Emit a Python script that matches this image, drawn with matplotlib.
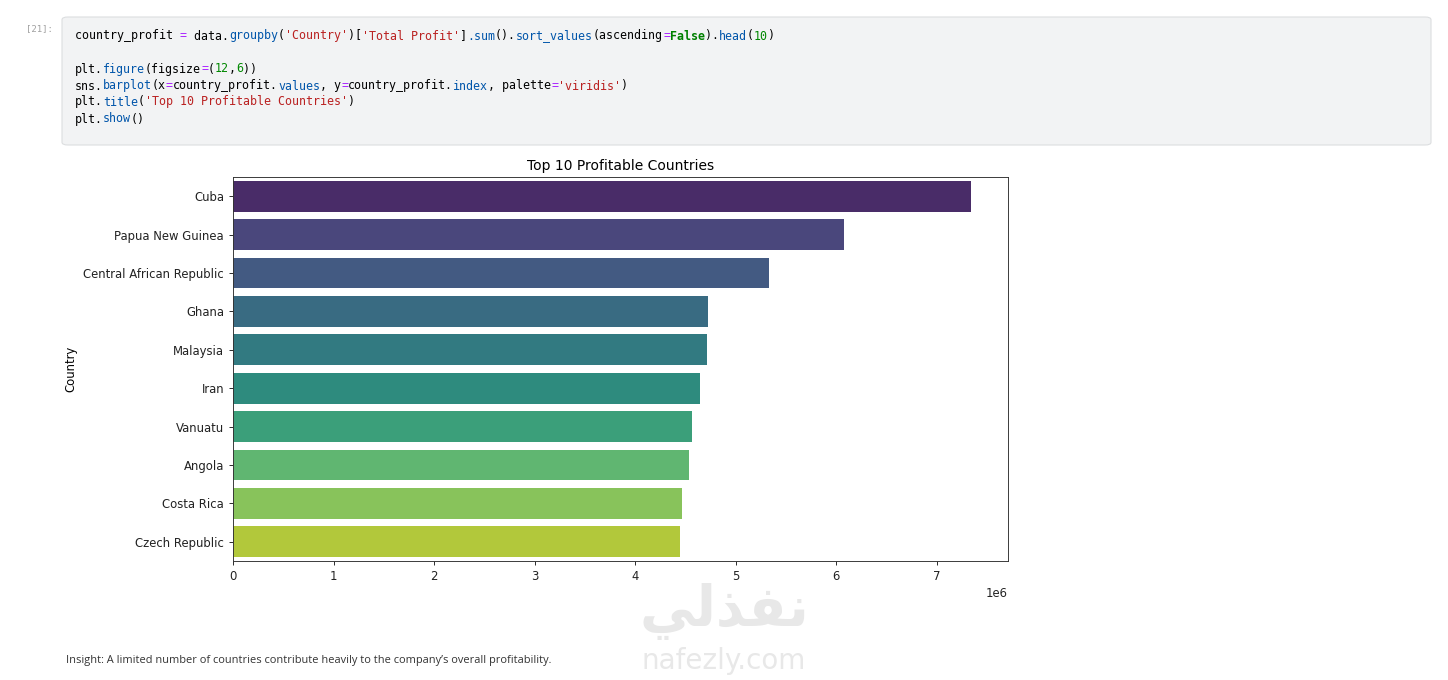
import matplotlib
matplotlib.use('Agg')
import matplotlib.pyplot as plt
import matplotlib.patches as patches
import seaborn as sns

# data
countries = ['Cuba', 'Papua New Guinea', 'Central African Republic', 'Ghana', 'Malaysia',
             'Iran', 'Vanuatu', 'Angola', 'Costa Rica', 'Czech Republic']
profits = [7.342e6, 6.078e6, 5.331e6, 4.727e6, 4.711e6,
           4.644e6, 4.561e6, 4.535e6, 4.468e6, 4.445e6]

W, H = 1448, 680

def fx(px):
    return px / W

def fy(py):
    return 1 - py / H

fig = plt.figure(figsize=(W / 100, H / 100), dpi=100)
fig.patch.set_facecolor('white')

# code cell
cell = patches.FancyBboxPatch((fx(62), fy(145)), fx(1431) - fx(62), fy(17) - fy(145),
                              boxstyle='round,pad=0,rounding_size=0.004',
                              transform=fig.transFigure, facecolor='#f2f3f4',
                              edgecolor='#dcdee0', linewidth=0.8)
fig.patches.append(cell)
fig.text(fx(26), fy(29), '[21]:', fontsize=6.5, color='#a0a0a0',
         family='DejaVu Sans Mono', va='center')

K = '#000000'
OP = '#aa22ff'
FN = '#0055aa'
ST = '#ba2121'
NU = '#008800'
KW = '#008000'
code_lines = [
    (36, [('country_profit ', K), ('=', OP), (' data.', K), ('groupby', FN), ('(', K),
          ("'Country'", ST), (')[', K), ("'Total Profit'", ST), (']', K), ('.sum', FN),
          ('().', K), ('sort_values', FN), ('(ascending', K), ('=', OP), ('False', KW),
          (').', K), ('head', FN), ('(', K), ('10', NU), (')', K)]),
    (69, [('plt.', K), ('figure', FN), ('(figsize', K), ('=', OP), ('(', K), ('12', NU),
          (',', K), ('6', NU), ('))', K)]),
    (86, [('sns.', K), ('barplot', FN), ('(x', K), ('=', OP), ('country_profit.', K),
          ('values', FN), (', y', K), ('=', OP), ('country_profit.', K), ('index', FN),
          (', palette', K), ('=', OP), ("'viridis'", ST), (')', K)]),
    (102, [('plt.', K), ('title', FN), ('(', K), ("'Top 10 Profitable Countries'", ST), (')', K)]),
    (119, [('plt.', K), ('show', FN), ('()', K)]),
]
char_w = 7.0
for py, tokens in code_lines:
    col = 0
    for txt, colr in tokens:
        fig.text(fx(75 + col * char_w), fy(py), txt, fontsize=8.4, color=colr,
                 family='DejaVu Sans Mono', va='center',
                 fontweight='bold' if txt == 'False' else 'normal')
        col += len(txt)

# chart (notebook image shown at ~83% scale)
s = 0.8333
ax = fig.add_axes([fx(233), fy(561), fx(1008) - fx(233), fy(177) - fy(561)])
sns.barplot(x=profits, y=countries, hue=countries, palette='viridis', legend=False, ax=ax)
ax.set_title('Top 10 Profitable Countries', fontsize=12 * s, pad=6 * s)
ax.set_ylabel('Country', fontsize=10 * s)
ax.tick_params(labelsize=10 * s, length=3.5 * s, width=0.8 * s, colors='#222222')
ax.xaxis.get_offset_text().set_fontsize(10 * s)
for sp in ax.spines.values():
    sp.set_linewidth(0.8 * s)
    sp.set_color('#333333')

# watermark
fig.text(fx(724), fy(612), '\uFEF2\uFEDF\uFEAC\uFED4\uFEE7', fontsize=40, color='#e8e8e8',
         family='DejaVu Sans', fontweight='bold', ha='center', va='center', zorder=0)
fig.text(fx(724), fy(661), 'nafezly.com', fontsize=20, color='#e8e8e8',
         family='DejaVu Sans', ha='center', va='center', zorder=0)

fig.text(fx(66), fy(660), "Insight: A limited number of countries contribute heavily to the company\u2019s overall profitability.",
         fontsize=7.95, color='#333333', family='Open Sans', va='center')

fig.savefig('out.png', dpi=100)
